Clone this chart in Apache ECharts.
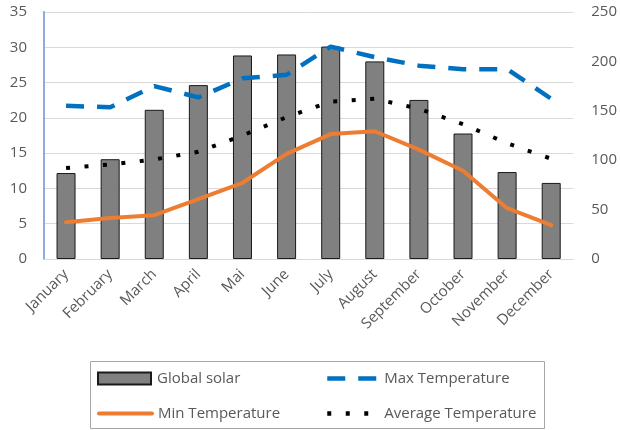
<!DOCTYPE html>
<html>
<head>
<meta charset="utf-8">
<script src="https://cdn.jsdelivr.net/npm/echarts@6/dist/echarts.min.js"></script>
<style>html,body{margin:0;padding:0;background:#fff;}#c{width:620px;height:430px;}</style>
</head>
<body>
<div id="c"></div>
<script>
var months = ['January','February','March','April','Mai','June','July','August','September','October','November','December'];
var globalSolar = [87, 101, 151, 176, 206, 207, 215, 200, 161, 127, 88, 77];
var maxTemp = [21.7, 21.5, 24.5, 22.9, 25.6, 26.1, 30.1, 28.6, 27.4, 26.9, 26.9, 22.7];
var minTemp = [5.2, 5.8, 6.2, 8.5, 10.8, 14.9, 17.7, 18.1, 15.5, 12.5, 7.2, 4.8];
var avgTemp = [12.9, 13.4, 14.1, 15.2, 17.5, 20.1, 22.3, 22.7, 21.3, 19.1, 16.4, 14.2];
var leftTicks = {min: 0, max: 35, interval: 5};
var rightTicks = {min: 0, max: 250, interval: 50};

var FONT = 'Open Sans';
var TXT = '#595959';
var chart = echarts.init(document.getElementById('c'), null, {renderer: 'canvas'});
function lg(name, left, top, w, h, icon, lineW) {
  var o = {data: [{name: name, icon: icon}], left: left, top: top, itemWidth: w, itemHeight: h, itemGap: 0,
    textStyle: {fontFamily: FONT, fontSize: 15, color: TXT, padding: [0,0,0,1]}, padding: 0, selectedMode: false};
  if (lineW) { o.itemStyle = {opacity: 0}; o.lineStyle = {width: lineW}; }
  return o;
}
chart.setOption({
  animation: false,
  textStyle: {fontFamily: FONT},
  grid: {left: 44, right: 45, top: 12, bottom: 171, containLabel: false},
  graphic: [{type: 'rect', shape: {x: 90.5, y: 361.5, width: 454, height: 67}, style: {fill: 'none', stroke: '#a6a6a6', lineWidth: 1}, z: 0}],
  legend: [
    lg('Global solar', 97, 371, 53, 12, 'rect', 0),
    lg('Min Temperature', 97, 406, 53, 4, undefined, 4),
    lg('Max Temperature', 325, 371, 51, 4, undefined, 4.5),
    lg('Average Temperature', 325, 406, 51, 4, undefined, 4.5)
  ],
  xAxis: {
    type: 'category', data: months, boundaryGap: true,
    axisLine: {lineStyle: {color: '#d9d9d9', width: 1}},
    axisTick: {show: false},
    axisLabel: {rotate: 45, fontSize: 15, color: TXT, fontFamily: FONT, margin: 13, interval: 0}
  },
  yAxis: [
    {type: 'value', min: leftTicks.min, max: leftTicks.max, interval: leftTicks.interval,
     axisLine: {show: true, lineStyle: {color: '#8faadc', width: 2}},
     axisTick: {show: false},
     splitLine: {lineStyle: {color: '#d9d9d9', width: 1}},
     axisLabel: {fontSize: 15, color: TXT, fontFamily: FONT, margin: 17}},
    {type: 'value', min: rightTicks.min, max: rightTicks.max, interval: rightTicks.interval, position: 'right',
     axisLine: {show: false}, axisTick: {show: false}, splitLine: {show: false},
     axisLabel: {fontSize: 15, color: TXT, fontFamily: FONT, margin: 18}}
  ],
  series: [
    {name: 'Global solar', type: 'bar', yAxisIndex: 1, data: globalSolar, barWidth: 19,
     itemStyle: {color: '#808080', borderColor: '#1a1a1a', borderWidth: 1}},
    {name: 'Min Temperature', type: 'line', yAxisIndex: 0, data: minTemp, symbol: 'none',
     lineStyle: {color: '#ED7D31', width: 4, cap: 'round'}, itemStyle: {color: '#ED7D31'}, z: 3},
    {name: 'Max Temperature', type: 'line', yAxisIndex: 0, data: maxTemp, symbol: 'none',
     lineStyle: {color: '#0070C0', width: 4.5, type: [18, 13], cap: 'butt'}, itemStyle: {color: '#0070C0'}, z: 3},
    {name: 'Average Temperature', type: 'line', yAxisIndex: 0, data: avgTemp, symbol: 'none',
     lineStyle: {color: '#000000', width: 4, type: [4, 14.5], cap: 'butt'}, itemStyle: {color: '#000'}, z: 3}
  ]
});
</script>
</body>
</html>
